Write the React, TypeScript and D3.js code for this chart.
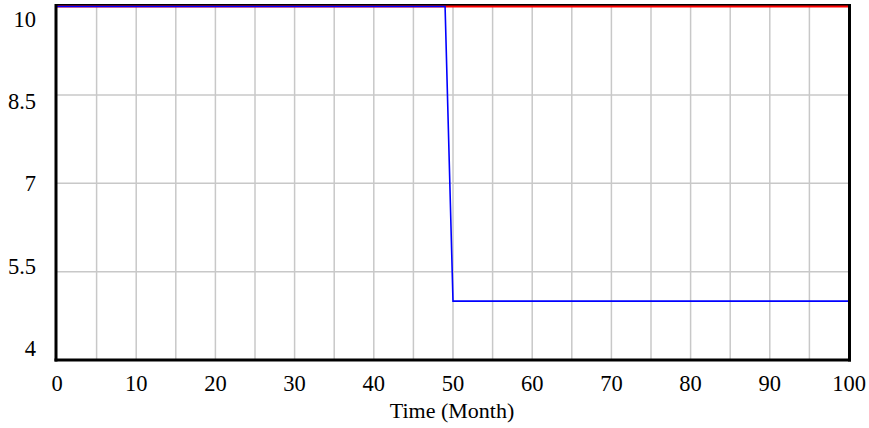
import React from "react";
import * as d3 from "d3";

const xTicks = [0, 10, 20, 30, 40, 50, 60, 70, 80, 90, 100];
const xGrid = [5, 10, 15, 20, 25, 30, 35, 40, 45, 50, 55, 60, 65, 70, 75, 80, 85, 90, 95];
const yTickLabels = ["10", "8.5", "7", "5.5", "4"];
const yGrid = [8.5, 7, 5.5];

const redTime = [0, 100];
const redValues = [10, 10];
const blueTime = [0, 49, 50, 100];
const blueValues = [10, 10, 5, 5];

export default function App() {
  const W = 869, H = 428;
  const x = d3.scaleLinear().domain([0, 100]).range([57, 849]);
  const y = d3.scaleLinear().domain([4, 10]).range([360, 6.5]);
  const labelY = d3.scaleLinear().domain([0, yTickLabels.length - 1]).range([19, 348]);
  const line = d3.line<[number, number]>().x(d => x(d[0])).y(d => y(d[1]));
  const red = line(redTime.map((t, i) => [t, redValues[i]] as [number, number])) || "";
  const blue = line(blueTime.map((t, i) => [t, blueValues[i]] as [number, number])) || "";
  const font = "'Liberation Serif', 'Times New Roman', serif";
  return (
    <svg width={W} height={H} style={{ position: "absolute", left: 0, top: 0, background: "#fff" }}>
      <rect x={0} y={0} width={W} height={H} fill="#fff" />
      {xGrid.map(v => (
        <line key={"gx" + v} x1={x(v)} x2={x(v)} y1={5} y2={360} stroke="#c8c8c8" strokeWidth={1.5} />
      ))}
      {yGrid.map(v => (
        <line key={"gy" + v} x1={57} x2={849} y1={y(v)} y2={y(v)} stroke="#c8c8c8" strokeWidth={1.5} />
      ))}
      <line x1={56} x2={850} y1={5} y2={5} stroke="#000" strokeWidth={2} />
      <path d={red} fill="none" stroke="#ff0000" strokeWidth={2} />
      <path d={blue} fill="none" stroke="#0000ff" strokeWidth={1.6} />
      <line x1={56} x2={56} y1={4} y2={361.5} stroke="#000" strokeWidth={3} />
      <line x1={849.5} x2={849.5} y1={4} y2={361.5} stroke="#000" strokeWidth={3} />
      <line x1={54.5} x2={851} y1={360} y2={360} stroke="#000" strokeWidth={3} />
      {yTickLabels.map((t, i) => (
        <text key={"yl" + t} x={36} y={labelY(i)} dy="0.35em" textAnchor="end" fontFamily={font} fontSize={22.5} fill="#000">{t}</text>
      ))}
      {xTicks.map(v => (
        <text key={"xl" + v} x={x(v)} y={383} dy="0.35em" textAnchor="middle" fontFamily={font} fontSize={22.5} fill="#000">{v}</text>
      ))}
      <text x={452} y={410} dy="0.35em" textAnchor="middle" fontFamily={font} fontSize={22} fill="#000">Time (Month)</text>
    </svg>
  );
}
